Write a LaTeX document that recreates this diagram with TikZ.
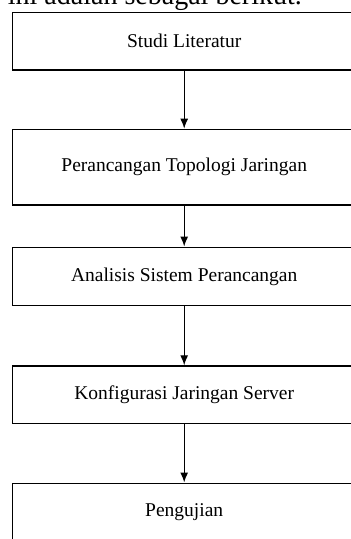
\documentclass[tikz,border=0pt]{standalone}
\usepackage{fontspec}
\setmainfont{Liberation Serif}
\usetikzlibrary{positioning}
\usetikzlibrary{calc}
\usetikzlibrary{arrows.meta}
\tikzset{
  tahap/.style={draw, line width=1.5pt, rectangle, inner sep=0pt,
    minimum width=343.7pt, font=\fontsize{19.5}{23}\selectfont},
  alur/.style={-{Latex[length=10pt,width=8pt]}, line width=1.3pt}
}

\begin{document}
\begin{tikzpicture}[x=1pt, y=-1pt]

% page frame
\useasboundingbox (0,0) rectangle (351,539);
\clip (0,0) rectangle (351,539);

% text above the chart
\node[anchor=base east, font=\fontsize{28}{32}\selectfont, inner sep=0pt] (kalimat) at (302,4.5) {ini adalah sebagai berikut.};

%%%Steps
\node[tahap, minimum height=57.7pt] (studi) at (184.2,41.2) {Studi Literatur};
\node[tahap, minimum height=75.7pt] (topologi) at (184.2,167.2) {Perancangan Topologi Jaringan};
\node[tahap, minimum height=58.4pt] (analisis) at (184.2,276.5) {Analisis Sistem Perancangan};
\node[tahap, minimum height=57.3pt] (konfig) at (184.2,394.7) {Konfigurasi Jaringan Server};
\node[tahap, minimum height=57.5pt] (uji) at (184.2,512) {Pengujian};

%%%Arrows
\draw[alur] (studi) -- (topologi);
\draw[alur] (topologi) -- (analisis);
\draw[alur] (analisis) -- (konfig);
\draw[alur] (konfig) -- (uji);

\end{tikzpicture}
\end{document}
